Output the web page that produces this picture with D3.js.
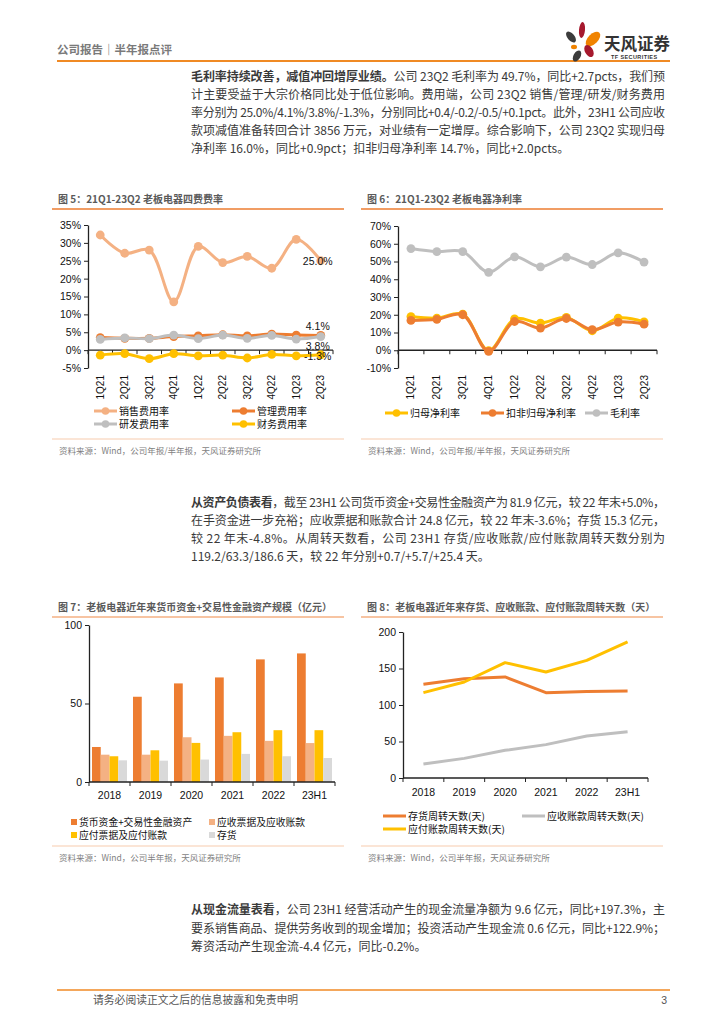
<!DOCTYPE html>
<html>
<head>
<meta charset="utf-8">
<script src="https://cdn.jsdelivr.net/npm/d3@7"></script>
<style>
  body { margin: 0; background: #fff; }
  svg { display: block; }
</style>
</head>
<body>
<script>
// ---- data ----
const quarters = ["1Q21", "2Q21", "3Q21", "4Q21", "1Q22", "2Q22", "3Q22", "4Q22", "1Q23", "2Q23"];
const salesRate = [32.2, 27.1, 28.0, 13.5, 29.0, 24.5, 26.2, 22.9, 31.0, 25.0];
const adminRate = [3.5, 3.3, 3.3, 3.8, 4.0, 4.3, 4.0, 4.5, 4.2, 4.1];
const rdRate = [3.0, 3.4, 3.2, 4.2, 3.2, 4.2, 3.3, 4.1, 3.1, 3.8];
const finRate = [-1.4, -1.0, -2.4, -1.0, -1.6, -1.4, -2.2, -1.2, -1.6, -1.3];
const feeTicks = [-5, 0, 5, 10, 15, 20, 25, 30, 35];

const netMargin = [19.0, 18.1, 20.3, -0.2, 17.7, 15.3, 18.5, 11.0, 18.1, 16.0];
const deductMargin = [16.8, 17.4, 20.0, -0.6, 16.2, 12.5, 17.9, 11.6, 15.9, 14.7];
const grossMargin = [57.3, 55.6, 55.6, 43.9, 52.6, 47.0, 52.5, 48.3, 54.9, 49.7];
const marginTicks = [-10, 0, 10, 20, 30, 40, 50, 60, 70];

const years = ["2018", "2019", "2020", "2021", "2022", "23H1"];
const cashAssets = [22.3, 54.3, 62.8, 66.6, 78.1, 81.9];
const receivables = [17.4, 17.4, 28.5, 29.4, 26.2, 24.8];
const payables = [16.4, 20.2, 24.9, 31.7, 33.0, 33.0];
const inventory = [13.8, 13.6, 14.3, 17.9, 16.4, 15.3];
const scaleTicks = [0, 50, 100];

const invDays = [128.3, 136.0, 138.4, 116.9, 118.5, 119.2];
const recDays = [19.2, 26.9, 37.9, 45.7, 57.6, 63.3];
const payDays = [116.9, 131.5, 158.0, 145.2, 161.2, 186.6];
const dayTicks = [0, 50, 100, 150, 200];

// ---- page ----
const W = 724, H = 1024;
const LATIN = "'Liberation Sans', Arial, 'Noto Sans CJK SC', sans-serif";
const CJK = "'Noto Sans CJK SC', 'Liberation Sans', sans-serif";
const svg = d3.select("body").append("svg").attr("width", W).attr("height", H);

// header
svg.append("text").attr("x", 57).attr("y", 54)
    .attr("font-family", CJK).attr("font-size", 11.5).attr("font-weight", 700)
    .attr("fill", "#7a7a7a").text("公司报告｜半年报点评");
svg.append("line").attr("x1", 57).attr("x2", 670).attr("y1", 61).attr("y2", 61)
    .attr("stroke", "#F08A24").attr("stroke-width", 2);

// logo
const logo = svg.append("g");
const petals = [
    {cx: 582, cy: 30, rx: 3, ry: 8, r: 5, c: "#A6192E"},
    {cx: 593, cy: 39, rx: 5, ry: 9, r: 45, c: "#F08300"},
    {cx: 571, cy: 37, rx: 3.5, ry: 6.5, r: -40, c: "#3C3C3C"},
    {cx: 574, cy: 47, rx: 3, ry: 2.2, r: 0, c: "#F08300"},
    {cx: 589, cy: 51, rx: 4, ry: 6.5, r: -30, c: "#A6192E"},
    {cx: 577, cy: 56, rx: 3.5, ry: 6, r: 30, c: "#3C3C3C"}
];
logo.selectAll("ellipse").data(petals).join("ellipse")
    .attr("cx", d => d.cx).attr("cy", d => d.cy)
    .attr("rx", d => d.rx).attr("ry", d => d.ry)
    .attr("transform", d => "rotate(" + d.r + "," + d.cx + "," + d.cy + ")")
    .attr("fill", d => d.c);
logo.append("text").attr("x", 604).attr("y", 50)
    .attr("font-family", CJK).attr("font-size", 16.5).attr("font-weight", 700)
    .attr("fill", "#333").text("天风证券");
logo.append("text").attr("x", 611).attr("y", 59)
    .attr("font-family", LATIN).attr("font-size", 5.5).attr("font-weight", 700)
    .attr("fill", "#333").attr("letter-spacing", 0.4).text("TF SECURITIES");

// body paragraphs, one entry per printed line
function para(lines, x0, x1, y0, lh) {
    lines.forEach((segs, i) => {
        const t = svg.append("text").attr("x", x0).attr("y", y0 + i * lh)
            .attr("font-family", CJK).attr("font-size", 12).attr("fill", "#3a3a3a");
        segs.forEach(s => t.append("tspan").attr("font-weight", s[1] ? 700 : 400).text(s[0]));
        if (i < lines.length - 1) t.attr("textLength", x1 - x0).attr("lengthAdjust", "spacing");
    });
}

para([
    [["毛利率持续改善，减值冲回增厚业绩。", true], ["公司 23Q2 毛利率为 49.7%，同比+2.7pcts，我们预", false]],
    [["计主要受益于大宗价格同比处于低位影响。费用端，公司 23Q2 销售/管理/研发/财务费用", false]],
    [["率分别为 25.0%/4.1%/3.8%/-1.3%，分别同比+0.4/-0.2/-0.5/+0.1pct。此外，23H1 公司应收", false]],
    [["款项减值准备转回合计 3856 万元，对业绩有一定增厚。综合影响下，公司 23Q2 实现归母", false]],
    [["净利率 16.0%，同比+0.9pct；扣非归母净利率 14.7%，同比+2.0pcts。", false]]
], 191, 665, 81, 18);

para([
    [["从资产负债表看", true], ["，截至 23H1 公司货币资金+交易性金融资产为 81.9 亿元，较 22 年末+5.0%，", false]],
    [["在手资金进一步充裕；应收票据和账款合计 24.8 亿元，较 22 年末-3.6%；存货 15.3 亿元，", false]],
    [["较 22 年末-4.8%。从周转天数看，公司 23H1 存货/应收账款/应付账款周转天数分别为", false]],
    [["119.2/63.3/186.6 天，较 22 年分别+0.7/+5.7/+25.4 天。", false]]
], 191, 665, 507, 18);

para([
    [["从现金流量表看", true], ["，公司 23H1 经营活动产生的现金流量净额为 9.6 亿元，同比+197.3%，主", false]],
    [["要系销售商品、提供劳务收到的现金增加；投资活动产生现金流 0.6 亿元，同比+122.9%；", false]],
    [["筹资活动产生现金流-4.4 亿元，同比-0.2%。", false]]
], 191, 665, 914, 18.5);

// footer
svg.append("line").attr("x1", 57).attr("x2", 670).attr("y1", 990).attr("y2", 990)
    .attr("stroke", "#F08A24").attr("stroke-width", 1.5);
svg.append("text").attr("x", 93).attr("y", 1004)
    .attr("font-family", CJK).attr("font-size", 10.8).attr("fill", "#555")
    .text("请务必阅读正文之后的信息披露和免责申明");
svg.append("text").attr("x", 667).attr("y", 1004).attr("text-anchor", "end")
    .attr("font-family", LATIN).attr("font-size", 10.5).attr("fill", "#555").text("3");

// chart frame: title, rules, source
function frame(x0, x1, titleY, bottomY, title, ruleColor, source) {
    svg.append("text").attr("x", x0 + 6).attr("y", titleY - 6)
        .attr("font-family", CJK).attr("font-size", 10).attr("font-weight", 700)
        .attr("fill", "#5a5a5a").text(title);
    svg.append("line").attr("x1", x0).attr("x2", x1).attr("y1", titleY).attr("y2", titleY)
        .attr("stroke", ruleColor).attr("stroke-width", 1.5);
    svg.append("line").attr("x1", x0).attr("x2", x1).attr("y1", bottomY).attr("y2", bottomY)
        .attr("stroke", "#F8CBAD").attr("stroke-width", 1.2);
    svg.append("text").attr("x", x0 + 7).attr("y", bottomY + 15)
        .attr("font-family", CJK).attr("font-size", 8.5).attr("fill", "#7f7f7f").text(source);
}

frame(52, 344, 209, 439, "图 5：21Q1-23Q2 老板电器四费费率", "#ED7D31", "资料来源：Wind，公司年报/半年报，天风证券研究所");
frame(361, 663, 209, 439, "图 6：21Q1-23Q2 老板电器净利率", "#ED7D31", "资料来源：Wind，公司年报/半年报，天风证券研究所");
frame(52, 344, 617, 846, "图 7：老板电器近年来货币资金+交易性金融资产规模（亿元）", "#F4B183", "资料来源：Wind，公司半年报，天风证券研究所");
frame(361, 663, 617, 846, "图 8：老板电器近年来存货、应收账款、应付账款周转天数（天）", "#F4B183", "资料来源：Wind，公司半年报，天风证券研究所");

// shared axis helpers
function yAxis(g, y, x0, ticks, fmt) {
    g.append("g").attr("transform", "translate(" + x0 + ",0)")
        .call(d3.axisLeft(y).tickValues(ticks).tickSize(4).tickSizeOuter(0).tickFormat(fmt))
        .call(a => a.select(".domain").attr("stroke", "#222").attr("stroke-width", 1.3))
        .call(a => a.selectAll(".tick line").attr("stroke", "#222"))
        .call(a => a.selectAll("text").attr("font-family", LATIN).attr("font-size", 10.5).attr("fill", "#111"));
}

function xBaseline(g, x, yPos) {
    const [r0, r1] = x.range();
    g.append("line").attr("x1", r0).attr("x2", r1).attr("y1", yPos).attr("y2", yPos)
        .attr("stroke", "#222").attr("stroke-width", 1.3);
    const bounds = d3.range(x.domain().length + 1).map(i => r0 + i * x.step());
    g.selectAll(null).data(bounds).join("line")
        .attr("x1", d => d).attr("x2", d => d).attr("y1", yPos).attr("y2", yPos + 4)
        .attr("stroke", "#222");
}

function legendLine(g, x, y, color, label, marker) {
    g.append("line").attr("x1", x).attr("x2", x + 23).attr("y1", y).attr("y2", y)
        .attr("stroke", color).attr("stroke-width", 3);
    if (marker) g.append("circle").attr("cx", x + 11.5).attr("cy", y).attr("r", 3.8).attr("fill", color);
    g.append("text").attr("x", x + 25).attr("y", y + 3.8)
        .attr("font-family", CJK).attr("font-size", 10).attr("fill", "#111").text(label);
}

function lineSeries(g, x, y, cats, values, color, curve, marker) {
    const bw = x.bandwidth() / 2;
    const pts = values.map((v, i) => [x(cats[i]) + bw, y(v)]);
    g.append("path").attr("d", d3.line().curve(curve)(pts))
        .attr("fill", "none").attr("stroke", color).attr("stroke-width", 3)
        .attr("stroke-linejoin", "round");
    if (marker) {
        g.selectAll(null).data(pts).join("circle")
            .attr("cx", d => d[0]).attr("cy", d => d[1]).attr("r", 4.4).attr("fill", color);
    }
}

function rotatedLabels(g, x, cats, top) {
    const bw = x.bandwidth() / 2;
    g.selectAll(null).data(cats).join("text")
        .attr("transform", d => "translate(" + (x(d) + bw + 3.5) + "," + top + ") rotate(-90)")
        .attr("text-anchor", "end")
        .attr("font-family", LATIN).attr("font-size", 10).attr("fill", "#111")
        .text(d => d);
}

const smooth = d3.curveCatmullRom.alpha(0.5);

// ---- chart 5 ----
{
    const g = svg.append("g");
    const x = d3.scaleBand().domain(quarters).range([88, 333]);
    const y = d3.scaleLinear().domain([-5, 35]).range([368, 225]);
    yAxis(g, y, 88, feeTicks, d => d + "%");
    xBaseline(g, x, y(0));
    rotatedLabels(g, x, quarters, 375);
    lineSeries(g, x, y, quarters, salesRate, "#F4B183", smooth, true);
    lineSeries(g, x, y, quarters, adminRate, "#ED7D31", smooth, true);
    lineSeries(g, x, y, quarters, rdRate, "#BFBFBF", smooth, true);
    lineSeries(g, x, y, quarters, finRate, "#FFC000", smooth, true);

    const last = quarters.length - 1;
    const lx = x(quarters[last]) + x.bandwidth() / 2 - 3;
    const endLabels = [[salesRate[last], 0], [adminRate[last], -9], [rdRate[last], 9], [finRate[last], 1]];
    g.selectAll(null).data(endLabels).join("text")
        .attr("x", lx).attr("y", d => y(d[0]) + d[1] + 4)
        .attr("text-anchor", "middle")
        .attr("font-family", LATIN).attr("font-size", 10.5).attr("fill", "#111")
        .text(d => d[0].toFixed(1) + "%");

    legendLine(g, 94, 411, "#F4B183", "销售费用率", true);
    legendLine(g, 232, 411, "#ED7D31", "管理费用率", true);
    legendLine(g, 94, 424, "#BFBFBF", "研发费用率", true);
    legendLine(g, 232, 424, "#FFC000", "财务费用率", true);
}

// ---- chart 6 ----
{
    const g = svg.append("g");
    const x = d3.scaleBand().domain(quarters).range([398, 657]);
    const y = d3.scaleLinear().domain([-10, 70]).range([368, 226]);
    yAxis(g, y, 398, marginTicks, d => d + "%");
    xBaseline(g, x, y(0));
    rotatedLabels(g, x, quarters, 375);
    lineSeries(g, x, y, quarters, netMargin, "#FFC000", smooth, true);
    lineSeries(g, x, y, quarters, deductMargin, "#ED7D31", smooth, true);
    lineSeries(g, x, y, quarters, grossMargin, "#BFBFBF", smooth, true);

    legendLine(g, 385, 413, "#FFC000", "归母净利率", true);
    legendLine(g, 481, 413, "#ED7D31", "扣非归母净利率", true);
    legendLine(g, 585, 413, "#BFBFBF", "毛利率", true);
}

// ---- chart 7 ----
{
    const g = svg.append("g");
    const keys = ["货币资金+交易性金融资产", "应收票据及应收账款", "应付票据及应付账款", "存货"];
    const colors = ["#ED7D31", "#F4B183", "#FFC000", "#D9D9D9"];
    const rows = years.map((yr, i) => ({
        year: yr,
        vals: [cashAssets[i], receivables[i], payables[i], inventory[i]]
    }));
    const x0 = d3.scaleBand().domain(years).range([89, 335]).paddingInner(0.146).paddingOuter(0.073);
    const x1 = d3.scaleBand().domain(d3.range(keys.length)).range([0, x0.bandwidth()]);
    const y = d3.scaleLinear().domain([0, 100]).range([782, 625]);

    g.selectAll(".grp").data(rows).join("g")
        .attr("transform", d => "translate(" + x0(d.year) + ",0)")
        .selectAll("rect").data(d => d.vals).join("rect")
        .attr("x", (v, k) => x1(k)).attr("width", x1.bandwidth())
        .attr("y", v => y(v)).attr("height", v => y(0) - y(v))
        .attr("fill", (v, k) => colors[k]);

    yAxis(g, y, 89, scaleTicks, d => d);
    const xb = d3.scaleBand().domain(years).range([89, 335]);
    xBaseline(g, xb, y(0));
    g.selectAll(null).data(years).join("text")
        .attr("x", d => xb(d) + xb.bandwidth() / 2).attr("y", 799)
        .attr("text-anchor", "middle")
        .attr("font-family", LATIN).attr("font-size", 10.5).attr("fill", "#111").text(d => d);

    const legendPos = [[71, 822], [209, 822], [71, 835], [209, 835]];
    keys.forEach((k, i) => {
        g.append("rect").attr("x", legendPos[i][0]).attr("y", legendPos[i][1] - 3)
            .attr("width", 6).attr("height", 6).attr("fill", colors[i]);
        g.append("text").attr("x", legendPos[i][0] + 8).attr("y", legendPos[i][1] + 3.5)
            .attr("font-family", CJK).attr("font-size", 9.8).attr("fill", "#111").text(k);
    });
}

// ---- chart 8 ----
{
    const g = svg.append("g");
    const x = d3.scaleBand().domain(years).range([403, 648]);
    const y = d3.scaleLinear().domain([0, 200]).range([778, 632]);
    yAxis(g, y, 403, dayTicks, d => d);
    xBaseline(g, x, y(0));
    g.selectAll(null).data(years).join("text")
        .attr("x", d => x(d) + x.bandwidth() / 2).attr("y", 796)
        .attr("text-anchor", "middle")
        .attr("font-family", LATIN).attr("font-size", 10.5).attr("fill", "#111").text(d => d);

    lineSeries(g, x, y, years, invDays, "#ED7D31", d3.curveLinear, false);
    lineSeries(g, x, y, years, recDays, "#BFBFBF", d3.curveLinear, false);
    lineSeries(g, x, y, years, payDays, "#FFC000", d3.curveLinear, false);

    legendLine(g, 383, 816, "#ED7D31", "存货周转天数(天)", false);
    legendLine(g, 522, 816, "#BFBFBF", "应收账款周转天数(天)", false);
    legendLine(g, 383, 829, "#FFC000", "应付账款周转天数(天)", false);
}
</script>
</body>
</html>
